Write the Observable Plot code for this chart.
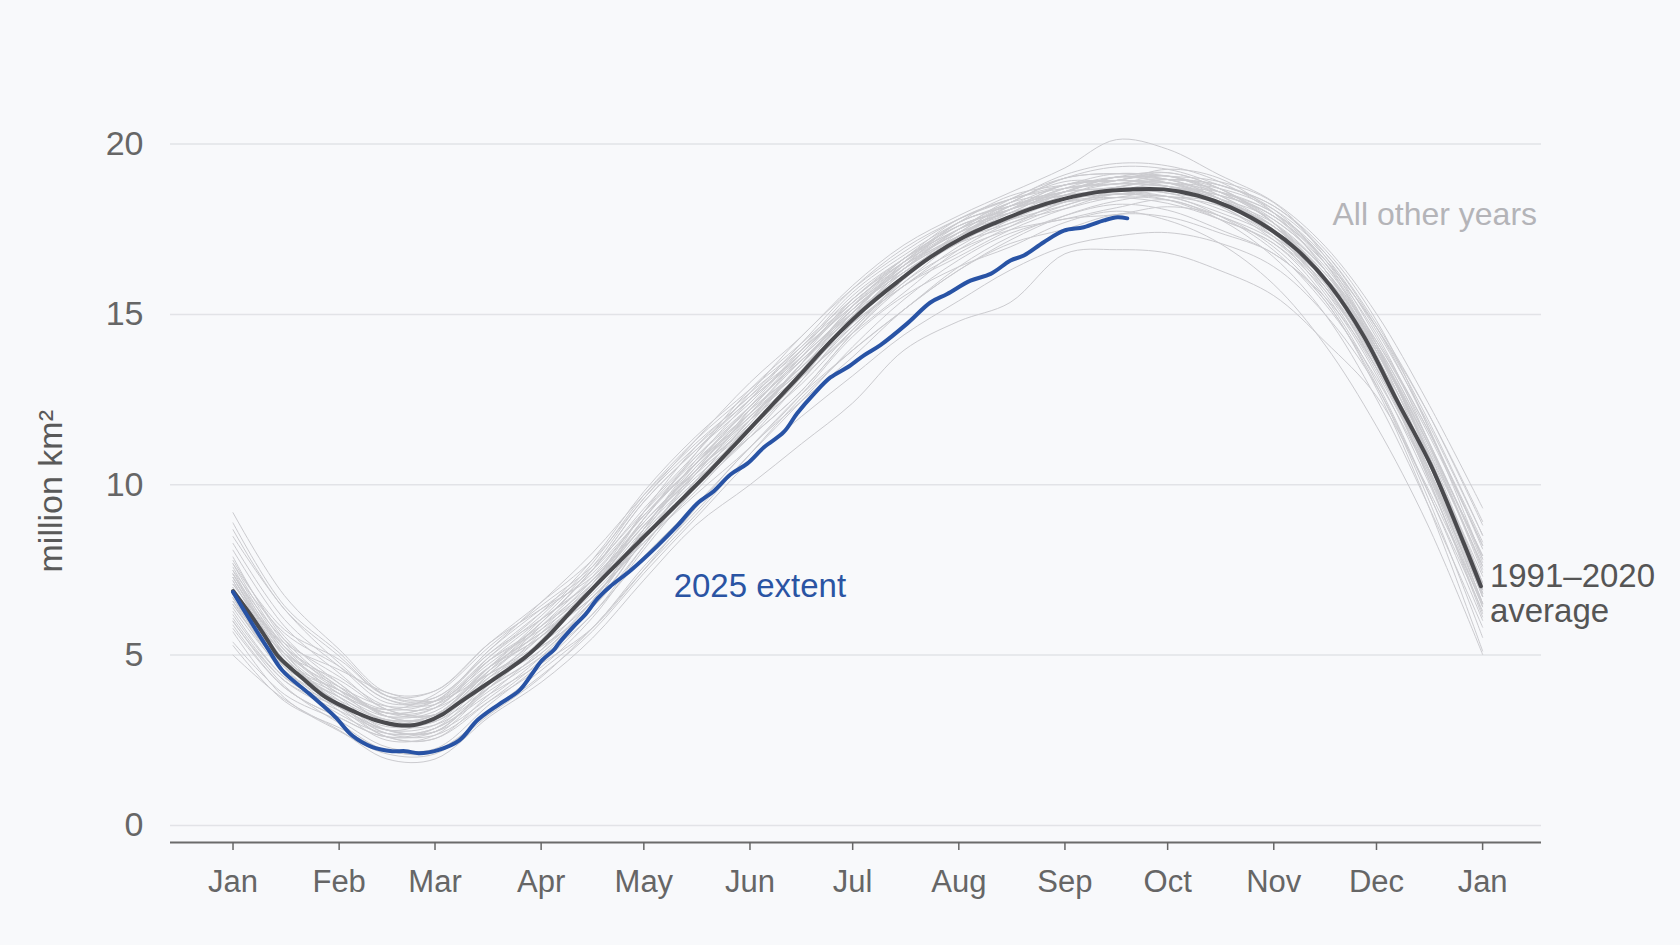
<!DOCTYPE html>
<html>
<head>
<meta charset="utf-8">
<script src="https://cdn.jsdelivr.net/npm/d3@7"></script>
<script src="https://cdn.jsdelivr.net/npm/@observablehq/plot@0.6"></script>
<style>
  html, body { margin: 0; padding: 0; background: #f8f9fb; }
  #chart svg { display: block; }
</style>
</head>
<body>
<div id="chart"></div>
<script>
// ---- Axis ticks ----
const monthTicks = [0, 31, 59, 90, 120, 151, 181, 212, 243, 273, 304, 334, 365];
const monthLabels = ["Jan", "Feb", "Mar", "Apr", "May", "Jun", "Jul", "Aug", "Sep", "Oct", "Nov", "Dec", "Jan"];
const yTicks = [0, 5, 10, 15, 20];

// ---- 1991–2020 average (million km²) ----
const avgDays = [0, 5, 9.5, 13.4, 20, 27, 36.8, 42, 48.4, 53, 56.2, 61, 66, 75.7, 85.4, 92, 99.6, 109.3, 119, 128.8, 138.5, 148.2, 158, 165, 174.5, 184.3, 194, 203.7, 213.5, 223.2, 233, 242.7, 252.4, 262.2, 271.9, 281.7, 291.4, 303, 311, 320.6, 330.3, 340, 349.8, 359.5, 364.5];
const avgValues = [6.88, 6.2, 5.53, 4.94, 4.35, 3.77, 3.28, 3.08, 2.94, 2.95, 3.03, 3.25, 3.6, 4.26, 4.94, 5.55, 6.38, 7.39, 8.37, 9.34, 10.32, 11.35, 12.4, 13.15, 14.2, 15.15, 15.95, 16.68, 17.27, 17.71, 18.1, 18.39, 18.59, 18.67, 18.67, 18.49, 18.14, 17.5, 16.88, 15.83, 14.36, 12.47, 10.59, 8.28, 7.02];

// ---- 2025 extent ----
const y2025Days = [0, 5.6, 10.5, 14.4, 22.2, 29.9, 34.8, 40.7, 46.5, 50.4, 54.3, 60.1, 66, 71.5, 77.6, 83.5, 87, 90.3, 93.7, 95.2, 99.6, 103, 106.4, 110, 116.3, 123.9, 129.8, 135.6, 140.5, 145.3, 150.2, 155.1, 160.9, 164.8, 169.7, 174.5, 179.5, 184.3, 189.1, 196.9, 203.7, 208.6, 215.4, 221.3, 227.1, 231, 236.8, 242.7, 248.5, 254.4, 258.3, 261.2];
const y2025Values = [6.85, 5.92, 5.14, 4.55, 3.87, 3.18, 2.64, 2.30, 2.18, 2.18, 2.12, 2.22, 2.49, 3.1, 3.55, 3.95, 4.4, 4.85, 5.15, 5.35, 5.85, 6.2, 6.65, 7.0, 7.5, 8.2, 8.8, 9.45, 9.82, 10.3, 10.62, 11.1, 11.55, 12.1, 12.67, 13.15, 13.45, 13.8, 14.1, 14.73, 15.35, 15.6, 15.99, 16.19, 16.58, 16.73, 17.12, 17.46, 17.56, 17.76, 17.85, 17.82];

// ---- All other years (sampled at these days of year) ----
const otherDays = [0, 15, 31, 45, 59, 75, 90, 105, 120, 135, 151, 166, 181, 196, 212, 227, 243, 258, 273, 288, 304, 319, 334, 349, 365];
const v1979 = [7.38,5.25,4.07,3.20,3.35,4.66,5.65,6.90,8.60,10.10,11.60,13.15,14.85,16.24,17.20,17.78,18.50,18.83,18.76,18.40,17.78,16.40,14.22,11.52,8.22];
const v1980 = [8.28,6.05,4.67,3.60,3.75,5.06,6.25,7.40,9.10,10.60,12.10,13.65,15.05,16.44,17.60,18.08,18.70,18.83,18.96,18.40,17.38,15.80,13.42,10.52,6.72];
const v1981 = [6.58,4.75,3.77,3.10,3.25,4.66,5.95,7.50,9.50,11.00,12.40,13.95,15.25,16.44,17.70,18.18,18.60,19.03,19.16,18.70,17.68,16.30,14.22,11.62,8.32];
const v1982 = [7.68,5.75,4.87,3.80,3.95,5.36,6.35,7.30,8.90,10.40,11.80,13.55,15.25,16.44,17.30,18.08,18.80,18.93,18.86,18.70,18.08,16.80,14.72,12.12,8.82];
const v1983 = [8.48,6.35,4.77,3.70,3.55,4.66,5.55,7.00,9.20,11.10,12.60,13.85,15.45,16.54,17.50,18.38,19.00,19.13,18.96,18.50,17.58,16.20,14.02,11.22,7.92];
const v1984 = [7.18,4.95,3.67,2.80,3.15,4.56,5.85,7.10,8.80,10.40,12.20,13.75,15.05,16.14,17.30,17.78,18.20,18.63,18.76,18.20,17.18,15.80,13.72,11.02,7.62];
const v1985 = [6.78,5.05,4.27,3.40,3.25,4.26,5.15,6.60,8.70,10.70,12.50,14.05,15.35,16.54,17.40,18.28,18.90,18.93,19.26,19.00,17.98,16.30,13.92,10.72,6.72];
const v1986 = [7.48,5.65,4.67,3.70,3.65,4.96,6.15,7.70,9.70,11.30,12.70,13.95,15.35,16.54,17.70,18.48,18.80,18.93,18.86,18.60,17.88,16.60,14.62,11.92,8.52];
const v1987 = [7.88,5.45,4.07,3.30,3.45,4.86,6.05,7.20,8.80,10.30,11.70,13.35,15.15,16.34,17.50,18.28,18.60,19.03,18.96,18.80,18.08,16.50,14.02,10.92,7.12];
const v1988 = [6.38,4.55,3.67,3.10,3.25,4.66,5.65,6.70,8.40,10.00,11.80,13.55,15.25,16.64,17.60,18.08,18.50,18.63,18.56,18.10,17.38,16.10,14.12,11.32,7.82];
const v1989 = [7.28,5.15,3.97,3.30,3.55,4.86,5.75,7.00,9.00,10.90,12.80,14.15,15.45,16.64,17.80,18.38,18.70,18.83,19.06,18.60,17.68,16.00,13.52,10.32,6.42];
const v1990 = [6.08,4.25,3.37,2.80,2.95,4.36,5.55,7.00,8.80,10.30,12.10,13.45,14.75,15.94,17.20,18.08,18.50,18.63,18.86,18.40,17.48,16.20,14.02,10.92,7.02];
const v1991 = [6.68,4.55,3.57,2.90,3.05,4.06,5.05,6.50,8.60,10.50,12.00,13.25,14.85,16.34,17.30,17.78,18.40,18.73,18.56,18.30,17.58,15.90,13.42,10.52,6.92];
const v1992 = [7.08,5.25,4.17,3.20,3.15,4.46,5.75,7.20,8.90,10.40,11.70,12.95,14.55,16.04,17.30,18.18,18.60,18.73,18.96,18.80,18.18,16.90,14.82,11.72,7.82];
const v1993 = [7.68,5.35,3.97,3.00,2.95,4.06,5.35,6.90,9.00,10.60,12.10,13.75,15.35,16.44,17.40,17.98,18.70,19.03,18.86,18.40,17.38,15.70,13.32,10.42,6.92];
const v1994 = [6.58,4.45,3.27,2.70,2.85,3.96,4.95,6.20,8.20,10.10,11.90,13.55,14.95,16.14,17.10,17.88,18.60,18.93,19.06,18.60,17.68,16.10,13.92,11.12,7.62];
const v1995 = [7.28,4.95,3.57,2.70,2.65,3.66,4.65,6.10,8.10,9.90,11.60,13.15,14.45,15.64,16.90,17.68,18.10,18.43,18.36,17.90,17.18,15.90,13.72,10.52,6.52];
const v1996 = [5.88,4.05,3.17,2.60,2.75,4.06,5.05,6.60,8.70,10.60,12.30,13.65,14.95,16.34,17.50,17.98,18.40,18.53,18.66,18.50,17.88,16.30,13.82,10.52,6.52];
const v1997 = [6.28,4.35,3.47,2.80,2.75,3.76,4.95,6.50,8.50,10.00,11.40,12.75,14.45,15.84,16.80,17.58,18.30,18.43,18.26,17.80,17.08,15.50,13.02,9.82,6.02];
const v1998 = [8.08,5.85,4.47,3.40,3.25,4.36,5.25,6.40,8.40,10.30,12.00,13.35,14.65,16.04,17.20,17.98,18.60,18.63,18.46,18.00,17.28,16.00,13.92,11.22,7.92];
const v1999 = [7.48,5.15,3.87,3.20,3.45,4.96,6.25,7.80,9.80,11.40,12.80,14.05,15.65,16.74,17.70,18.28,19.00,19.13,19.06,18.60,17.98,16.60,14.12,10.82,6.82];
const v2000 = [6.48,4.65,3.77,3.10,3.05,4.46,5.85,7.30,9.10,10.60,12.00,13.55,15.15,16.24,17.10,17.88,18.30,18.73,18.86,18.30,17.28,15.60,13.22,10.12,6.42];
const v2001 = [6.18,4.35,3.57,3.00,3.25,4.56,5.55,6.70,8.30,9.80,11.50,13.05,14.75,16.14,17.40,18.18,18.50,18.53,18.46,18.30,17.68,16.30,14.12,11.32,7.72];
const v2002 = [7.18,4.85,3.57,2.70,2.85,3.86,4.75,5.80,7.50,9.30,11.10,12.45,13.75,15.14,16.30,17.18,17.90,18.33,18.46,17.90,16.88,15.30,13.12,10.32,6.72];
const v2003 = [6.98,5.05,4.07,3.50,3.65,5.06,6.05,7.20,9.00,10.80,12.30,13.65,15.05,16.44,17.40,17.88,18.50,18.93,19.06,18.50,17.48,16.10,14.02,11.22,7.42];
const v2004 = [7.38,5.45,4.37,3.50,3.45,4.46,5.35,6.60,8.70,10.50,11.90,13.15,14.55,16.04,17.30,18.08,18.40,18.53,18.66,18.40,17.48,15.80,13.62,10.82,7.32];
const v2005 = [7.08,5.35,4.57,3.90,3.65,4.46,5.25,6.40,8.20,10.10,11.90,13.45,14.75,15.84,17.00,17.78,18.60,19.03,18.96,18.40,17.38,16.00,13.92,11.02,7.12];
const v2006 = [6.98,4.75,3.47,2.60,2.55,3.66,4.85,6.40,8.40,10.40,12.20,13.85,15.25,16.34,17.30,18.18,18.80,18.93,19.16,18.70,17.78,16.50,14.42,11.32,7.52];
const v2007 = [6.88,4.65,3.37,2.50,2.65,4.06,5.45,7.10,9.20,10.80,12.20,13.45,15.05,16.54,17.70,18.18,18.60,19.03,18.86,18.30,17.58,16.30,13.92,10.72,6.82];
const v2008 = [7.58,5.25,3.87,3.40,3.85,5.26,6.45,7.60,9.20,10.70,12.10,13.35,14.95,16.54,17.50,17.98,18.30,18.43,18.66,18.60,17.98,16.70,14.52,11.82,8.52];
const v2009 = [6.48,4.75,3.97,3.40,3.65,5.16,6.35,7.50,9.10,10.60,12.30,13.95,15.55,16.64,17.60,18.08,18.70,18.83,18.76,18.50,17.88,16.50,14.12,10.92,7.12];
const v2010 = [7.78,5.55,4.17,3.20,3.15,4.56,5.95,7.50,9.30,10.90,12.70,14.35,15.75,16.84,17.80,18.38,18.80,19.13,19.06,18.90,18.28,16.70,14.32,11.62,8.22];
const v2011 = [7.28,5.05,3.77,2.80,2.75,4.16,5.55,6.80,8.40,9.90,11.40,13.05,14.65,15.84,16.70,17.48,18.10,18.53,18.46,18.20,17.58,16.00,13.62,10.42,6.52];
const v2012 = [6.68,4.85,3.97,3.30,3.25,4.66,6.05,7.60,9.60,11.10,12.50,13.85,15.45,16.64,17.50,18.28,19.00,19.33,19.26,18.80,18.18,16.80,14.62,11.72,8.12];
const v2013 = [8.68,6.35,4.97,3.80,3.75,5.16,6.55,8.00,9.70,11.20,12.60,14.15,15.75,16.94,17.80,18.38,19.10,19.43,19.36,18.90,17.98,16.60,14.62,12.12,8.92];
const v2014 = [9.18,6.75,5.17,3.90,3.95,5.36,6.55,7.80,9.60,11.30,13.00,14.35,15.85,17.04,17.90,18.58,19.30,20.13,19.85,19.10,18.30,17.00,15.02,12.42,9.32];
const v2015 = [8.88,6.45,5.07,3.80,3.65,4.76,5.95,7.50,9.50,11.00,12.50,13.75,15.15,16.34,17.30,18.08,18.80,18.93,18.76,18.20,17.28,16.00,14.02,10.92,6.82];
const v2016 = [7.38,5.05,3.57,2.60,2.55,3.86,5.15,6.70,8.30,9.70,11.10,12.65,14.35,15.54,16.40,16.98,17.70,18.03,17.76,17.10,15.88,14.10,11.72,8.82,5.02];
const v2017 = [5.28,3.65,2.87,2.20,2.15,3.36,4.55,5.80,7.60,9.20,10.90,12.45,14.05,15.44,16.60,17.38,17.80,17.93,18.16,17.90,16.98,15.40,12.92,9.62,5.52];
const v2018 = [5.38,3.85,3.07,2.30,2.25,3.56,4.75,6.20,7.90,9.40,11.10,12.65,13.95,15.14,16.40,17.28,17.90,18.23,18.06,17.50,16.78,15.50,13.42,10.22,6.22];
const v2019 = [5.98,4.25,3.47,2.80,2.75,4.16,5.35,6.90,8.60,10.10,11.40,12.75,14.45,15.94,16.90,17.48,17.80,18.13,18.36,17.80,16.68,15.00,12.52,9.42,5.82];
const v2020 = [5.78,4.05,3.17,2.60,2.85,4.26,5.65,7.10,8.90,10.40,11.90,13.55,15.15,16.24,17.20,17.68,18.30,18.73,18.96,18.70,17.68,15.90,13.42,10.52,6.92];
const v2021 = [6.68,4.75,3.87,3.30,3.55,4.86,5.85,7.00,8.70,10.20,11.60,13.15,14.85,16.24,17.10,17.58,18.20,18.53,18.36,17.80,17.08,15.70,13.52,10.22,6.12];
const v2022 = [5.68,3.75,2.77,2.10,2.10,3.26,4.35,5.80,7.50,9.10,10.90,12.55,13.95,15.14,16.30,17.08,17.50,17.93,17.86,17.40,16.78,15.40,12.82,9.42,5.12];
const v2023 = [5.00,3.70,2.80,1.95,1.95,3.20,4.20,5.50,7.20,8.80,10.00,11.20,12.40,13.95,14.80,15.35,16.78,16.90,16.80,16.30,15.55,14.20,12.60,9.90,6.50];
const v2024 = [6.00,4.10,3.00,2.20,2.20,3.30,4.40,5.70,7.40,9.00,10.70,12.00,13.20,14.40,15.40,16.30,17.00,17.30,17.40,17.10,16.40,15.00,12.90,9.80,6.30];

const otherYearList = [
  [1979, v1979], [1980, v1980], [1981, v1981], [1982, v1982], [1983, v1983], [1984, v1984],
  [1985, v1985], [1986, v1986], [1987, v1987], [1988, v1988], [1989, v1989], [1990, v1990],
  [1991, v1991], [1992, v1992], [1993, v1993], [1994, v1994], [1995, v1995], [1996, v1996],
  [1997, v1997], [1998, v1998], [1999, v1999], [2000, v2000], [2001, v2001], [2002, v2002],
  [2003, v2003], [2004, v2004], [2005, v2005], [2006, v2006], [2007, v2007], [2008, v2008],
  [2009, v2009], [2010, v2010], [2011, v2011], [2012, v2012], [2013, v2013], [2014, v2014],
  [2015, v2015], [2016, v2016], [2017, v2017], [2018, v2018], [2019, v2019], [2020, v2020],
  [2021, v2021], [2022, v2022], [2023, v2023], [2024, v2024]
];

// ---- Annotation text ----
const labelOther = "All other years";
const label2025 = "2025 extent";
const labelAvg = "1991–2020\naverage";
const yAxisTitle = "million km²";

// ---- Build tables ----
const otherRows = otherYearList.flatMap(([year, vals]) =>
  vals.map((v, i) => ({ year, day: otherDays[i], value: v })));
const avgRows = avgDays.map((d, i) => ({ day: d, value: avgValues[i] }));
const rows2025 = y2025Days.map((d, i) => ({ day: d, value: y2025Values[i] }));
const avgEnd = avgRows[avgRows.length - 1];

const FONT = "'Liberation Sans', Arial, Helvetica, sans-serif";

const chart = Plot.plot({
  width: 1680,
  height: 945,
  marginLeft: 170,
  marginRight: 139,
  marginTop: 109.5,
  marginBottom: 103,
  style: { background: "#f8f9fb", fontFamily: FONT, overflow: "visible" },
  x: { domain: [-18.26, 382.2], axis: null },
  y: { domain: [-0.5, 21], axis: null },
  marks: [
    Plot.ruleY(yTicks, { stroke: "#e2e3e7", strokeWidth: 1.5 }),
    Plot.axisY(yTicks, { anchor: "left", tickSize: 0, tickPadding: 27, fontSize: 34, color: "#666", label: null }),
    Plot.ruleY([-0.5], { stroke: "#6b6b6b", strokeWidth: 2 }),
    Plot.axisX(monthTicks, {
      anchor: "bottom", tickSize: 8, tickPadding: 19, fontSize: 31, color: "#666", strokeWidth: 1.5,
      tickFormat: d => monthLabels[monthTicks.indexOf(d)], label: null
    }),
    Plot.text([yAxisTitle], { frameAnchor: "left", textAnchor: "middle", lineAnchor: "middle", rotate: -90, dx: -119.5, dy: 15, fontSize: 34, fill: "#595959" }),
    Plot.line(otherRows, { x: "day", y: "value", z: "year", stroke: "#cbcbcf", strokeWidth: 1, curve: "catmull-rom" }),
    Plot.line(avgRows, { x: "day", y: "value", stroke: "#4a4a4e", strokeWidth: 4, strokeLinecap: "round", curve: "catmull-rom" }),
    Plot.line(rows2025, { x: "day", y: "value", stroke: "#2853a5", strokeWidth: 4, strokeLinecap: "round", curve: "catmull-rom" }),
    Plot.text([labelOther], { x: 380.9, y: 17.61, textAnchor: "end", lineAnchor: "bottom", fontSize: 32, fill: "#b4b4b8" }),
    Plot.text([label2025], { x: 128.7, y: 6.72, textAnchor: "start", lineAnchor: "bottom", fontSize: 33, fill: "#2a54a3" }),
    Plot.text([labelAvg], { x: avgEnd.day, y: avgEnd.value, dx: 9, dy: 35.6, textAnchor: "start", lineAnchor: "bottom", lineHeight: 1.06, fontSize: 33, fill: "#555" })
  ]
});
document.getElementById("chart").appendChild(chart);
</script>
</body>
</html>
